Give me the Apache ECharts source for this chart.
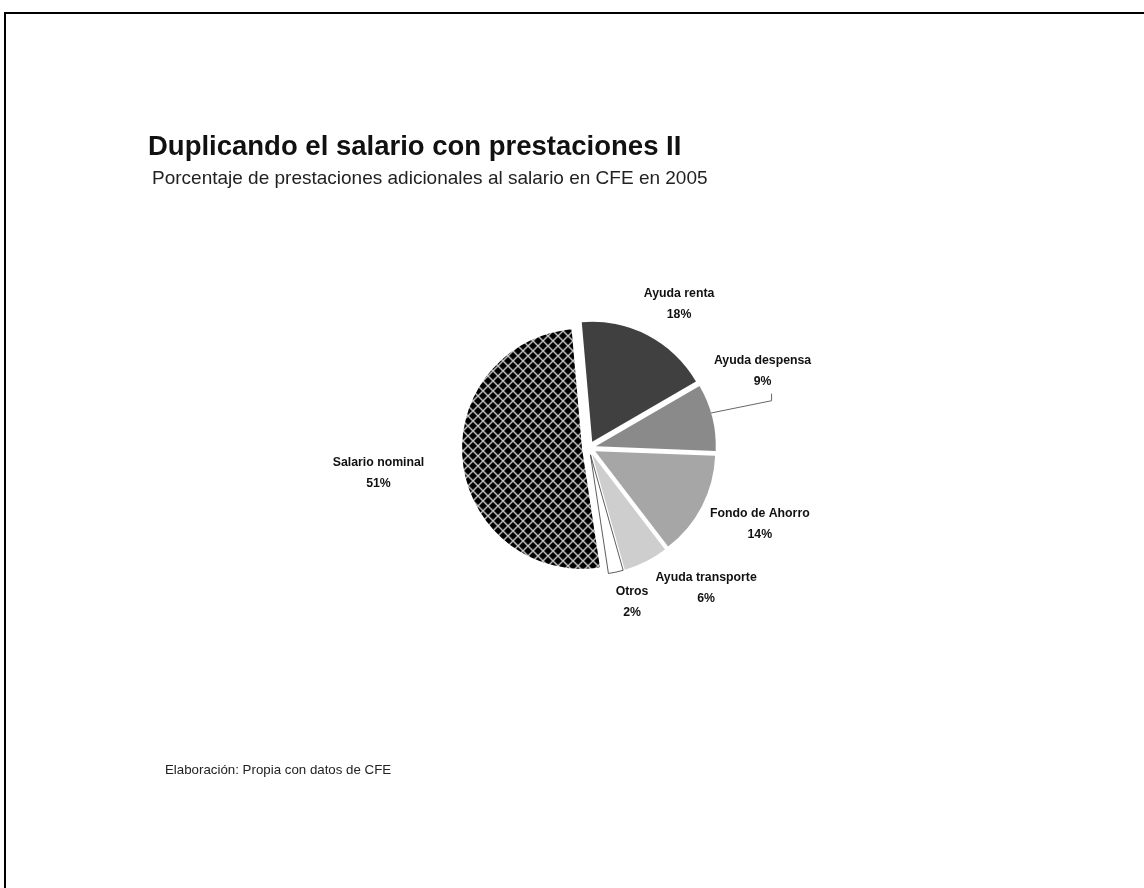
<!DOCTYPE html>
<html>
<head>
<meta charset="utf-8">
<style>
  html, body { margin: 0; padding: 0; background: #fff; }
  #chart { width: 1144px; height: 888px; }
</style>
<script src="https://cdn.jsdelivr.net/npm/echarts@6/dist/echarts.min.js"></script>
</head>
<body>
<div id="chart"></div>
<script>
// Shares of total compensation at CFE, 2005 (percent)
const categories = ['Ayuda renta', 'Ayuda despensa', 'Fondo de Ahorro', 'Ayuda transporte', 'Otros', 'Salario nominal'];
const shares = [18, 9, 14, 6, 2, 51];
const sliceColors = ['#404040', '#8a8a8a', '#a6a6a6', '#cecece', '#ffffff', 'hatch'];

// Where each label block sits around the pie: [angle in degrees (counter-clockwise from 3 o'clock), distance from centre in px]
const labelPolar = [[58, 170], [24, 190], [-24, 187], [-50.1, 182.5], [-74.4, 160], [186.8, 212]];
// Only this slice gets a leader line to its label
const leaderIndex = 1;

const titleText = 'Duplicando el salario con prestaciones II';
const subtitleText = 'Porcentaje de prestaciones adicionales al salario en CFE en 2005';
const sourceText = 'Elaboración: Propia con datos de CFE';

const FONT = 'Liberation Sans, Arial, Helvetica, sans-serif';

// Cross-hatch fill: black ground with light diagonal lines in both directions
function makeHatch() {
  const c = document.createElement('canvas');
  c.width = 10; c.height = 10;
  const g = c.getContext('2d');
  g.fillStyle = '#000';
  g.fillRect(0, 0, 10, 10);
  g.strokeStyle = '#c8c8c8';
  g.lineWidth = 1.4;
  g.beginPath();
  g.moveTo(-1, -1); g.lineTo(11, 11);
  g.moveTo(-1, 11); g.lineTo(11, -1);
  g.stroke();
  return c;
}
const hatch = makeHatch();

const center = [589, 448];
const radius = 120;
const startAngle = 95;
const explode = 7;

const chart = echarts.init(document.getElementById('chart'), null, { renderer: 'canvas' });

const data = categories.map((name, i) => {
  const col = sliceColors[i] === 'hatch' ? { image: hatch, repeat: 'repeat' } : sliceColors[i];
  const outlined = sliceColors[i] === '#ffffff';
  const style = {
    color: col,
    borderColor: outlined ? '#333' : 'rgba(0,0,0,0)',
    borderWidth: outlined ? 0.8 : 0
  };
  return { name: name, value: shares[i], selected: true, itemStyle: style, select: { itemStyle: style } };
});

// Category labels: name over percentage, centred on an anchor around the pie
const toXY = (deg, dist) => {
  const a = deg * Math.PI / 180;
  return [center[0] + dist * Math.cos(a), center[1] - dist * Math.sin(a)];
};
const total = shares.reduce((s, v) => s + v, 0);
const labelGraphics = categories.map((name, i) => {
  const p = toXY(labelPolar[i][0], labelPolar[i][1]);
  return {
    type: 'text',
    x: p[0], y: p[1],
    z: 10,
    style: {
      text: name + '\n' + shares[i] + '%',
      fontFamily: FONT, fontSize: 12.3, fontWeight: 'bold',
      fill: '#111',
      align: 'center', verticalAlign: 'middle',
      lineHeight: 21
    }
  };
});

// Leader line from the slice's rim to just under its label
let before = 0;
for (let i = 0; i < leaderIndex; i++) before += shares[i];
const midDeg = startAngle - 360 * (before + shares[leaderIndex] / 2) / total;
const rimPt = toXY(midDeg + 2, radius + explode);
const lab = toXY(labelPolar[leaderIndex][0], labelPolar[leaderIndex][1]);
const leader = {
  type: 'polyline',
  z: 10,
  shape: { points: [rimPt, [lab[0] + 9, lab[1] + 30], [lab[0] + 9, lab[1] + 23]] },
  style: { stroke: '#666', lineWidth: 1, fill: null }
};

chart.setOption({
  animation: false,
  backgroundColor: '#ffffff',
  title: [
    {
      text: titleText,
      left: 148, top: 133, padding: 0,
      textStyle: { fontFamily: FONT, fontSize: 27.5, fontWeight: 'bold', color: '#111' }
    },
    {
      text: subtitleText,
      left: 152, top: 169, padding: 0,
      textStyle: { fontFamily: FONT, fontSize: 19, fontWeight: 'normal', color: '#222' }
    },
    {
      text: sourceText,
      left: 165, top: 764, padding: 0,
      textStyle: { fontFamily: FONT, fontSize: 13.3, fontWeight: 'normal', color: '#222' }
    }
  ],
  graphic: [
    {
      type: 'polyline',
      shape: { points: [[5, 888], [5, 13], [1144, 13]] },
      style: { stroke: '#000', lineWidth: 2, fill: null }
    },
    leader
  ].concat(labelGraphics),
  series: [
    {
      type: 'pie',
      center: center,
      radius: radius,
      startAngle: startAngle,
      clockwise: true,
      selectedMode: 'multiple',
      selectedOffset: explode,
      data: data,
      label: { show: false },
      labelLine: { show: false },
      emphasis: { disabled: true }
    }
  ]
});
</script>
</body>
</html>
